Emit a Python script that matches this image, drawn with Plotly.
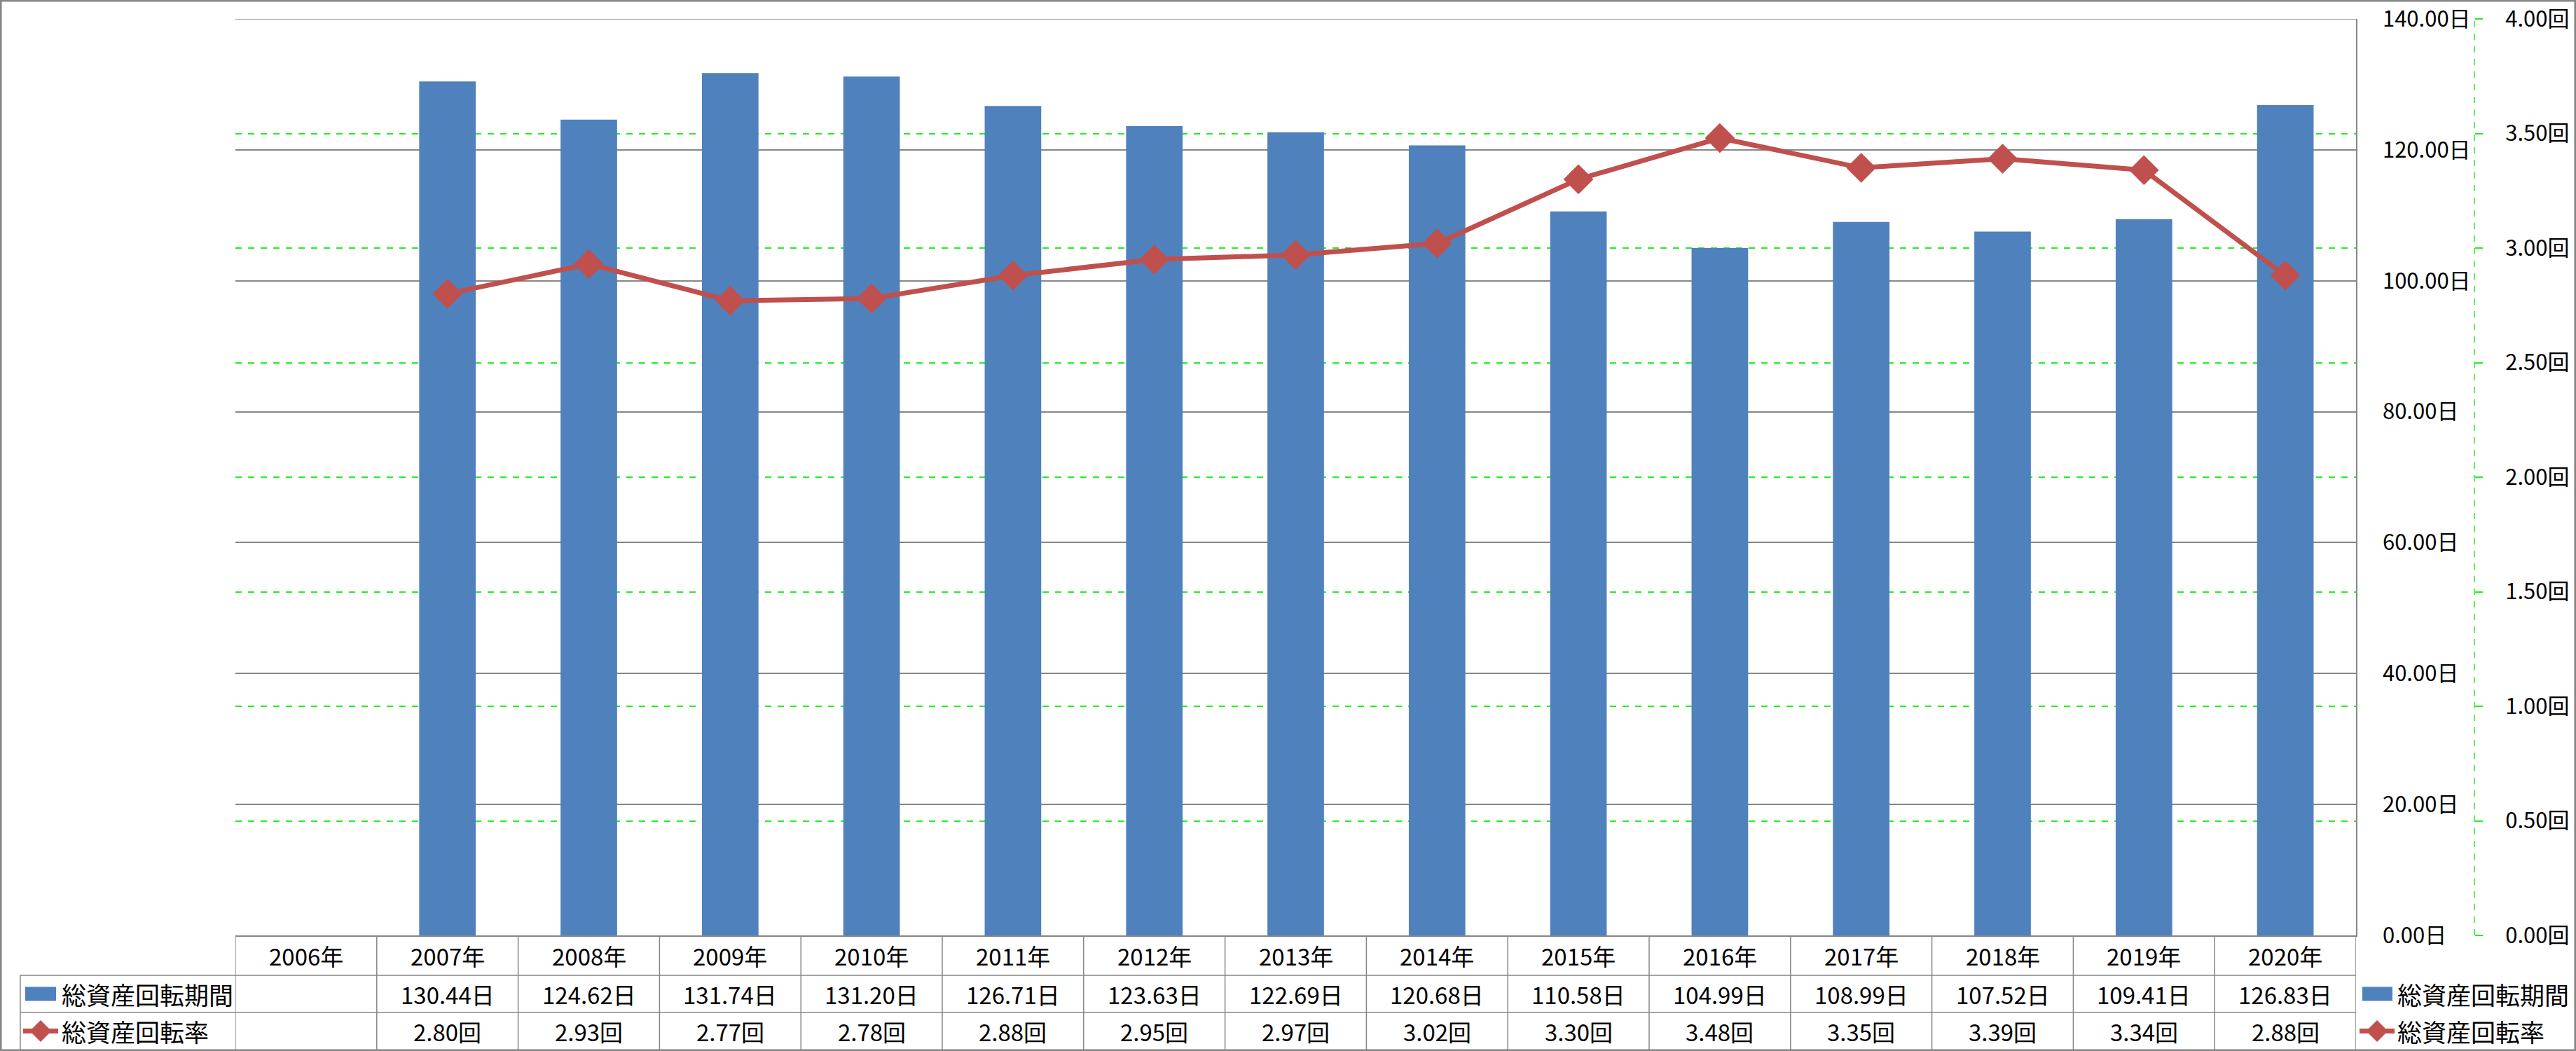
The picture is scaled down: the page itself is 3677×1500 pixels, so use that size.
import plotly.graph_objects as go

categories = ["2006年", "2007年", "2008年", "2009年", "2010年", "2011年", "2012年", "2013年",
              "2014年", "2015年", "2016年", "2017年", "2018年", "2019年", "2020年"]
period_days = [None, 130.44, 124.62, 131.74, 131.20, 126.71, 123.63, 122.69,
               120.68, 110.58, 104.99, 108.99, 107.52, 109.41, 126.83]
turnover_rate = [None, 2.80, 2.93, 2.77, 2.78, 2.88, 2.95, 2.97,
                 3.02, 3.30, 3.48, 3.35, 3.39, 3.34, 2.88]
name_period = "総資産回転期間"
name_rate = "総資産回転率"
day_ticks = [0, 20, 40, 60, 80, 100, 120, 140]
rate_ticks = [0, 0.5, 1.0, 1.5, 2.0, 2.5, 3.0, 3.5, 4.0]

W, H = 3677, 1500
FONT = "Noto Sans CJK JP"
FS_AX = 31
FS_TAB = 33
FS_LAB = 35
BLUE = "#4F81BD"
RED = "#C0504D"
GRAY = "#868686"
GREEN = "#22EE22"

def px(x):
    return x / W

def py(y):
    return (H - y) / H

x_left, x_right = 336, 3363
y_top, y_bot = 27, 1335
row1_b, row2_b, row3_b = 1392, 1445, 1498
ax2_x = 3532

fig = go.Figure()
fig.add_trace(go.Bar(
    x=categories, y=period_days, name=name_period, marker_color=BLUE,
    marker_line_width=0, yaxis="y", showlegend=False,
))
fig.add_trace(go.Scatter(
    x=categories, y=turnover_rate, name=name_rate, yaxis="y2",
    mode="lines+markers", line=dict(color=RED, width=7),
    marker=dict(symbol="diamond", size=32, color=RED, line=dict(color=RED, width=1)),
    showlegend=False,
))

shapes = []
annotations = []

# top gridline of the day axis (plotly clips gridlines at the range end)
shapes.append(dict(type="line", xref="x domain", yref="y", x0=0, x1=1,
                   y0=day_ticks[-1], y1=day_ticks[-1], line=dict(color=GRAY, width=1.5),
                   layer="below"))

# table vertical lines at category boundaries
for i in range(len(categories) + 1):
    shapes.append(dict(type="line", xref="x", yref="paper", x0=i - 0.5, x1=i - 0.5,
                       y0=py(row3_b), y1=py(y_bot), line=dict(color=GRAY, width=1.5)))
# left vertical of row labels
shapes.append(dict(type="line", xref="paper", yref="paper", x0=px(29), x1=px(29),
                   y0=py(row3_b), y1=py(row1_b), line=dict(color=GRAY, width=1.5)))
for yy in (row1_b, row2_b):
    shapes.append(dict(type="line", xref="paper", yref="paper", x0=px(29), x1=px(x_right),
                       y0=py(yy), y1=py(yy), line=dict(color=GRAY, width=1.5)))
# secondary axis dashed line
shapes.append(dict(type="line", xref="paper", yref="paper", x0=px(ax2_x), x1=px(ax2_x),
                   y0=py(y_bot), y1=py(y_top), line=dict(color=GREEN, width=1.5, dash="dash")))


def bar_key(x0, x1, yc):
    shapes.append(dict(type="rect", xref="paper", yref="paper", x0=px(x0), x1=px(x1),
                       y0=py(yc + 10), y1=py(yc - 10), fillcolor=BLUE, line=dict(width=0)))


def line_key(x0, x1, yc):
    shapes.append(dict(type="line", xref="paper", yref="paper", x0=px(x0), x1=px(x1),
                       y0=py(yc), y1=py(yc), line=dict(color=RED, width=7)))
    cx, hw, hh = (x0 + x1) / 2, 15, 15
    path = "M {} {} L {} {} L {} {} L {} {} Z".format(
        px(cx - hw), py(yc), px(cx), py(yc - hh), px(cx + hw), py(yc), px(cx), py(yc + hh))
    shapes.append(dict(type="path", xref="paper", yref="paper", path=path,
                       fillcolor=RED, line=dict(color=RED, width=1)))


y_r2 = (row1_b + row2_b) / 2
y_r3 = (row2_b + row3_b) / 2

# table legend keys
bar_key(36, 80, y_r2)
line_key(33, 83, y_r3)
# right-hand legend
bar_key(3372, 3415, y_r2)
line_key(3368, 3418, y_r3)

# outer border
shapes.append(dict(type="rect", xref="paper", yref="paper", x0=0.0003, x1=0.9997,
                   y0=0.0007, y1=0.9993, line=dict(color=GRAY, width=3), layer="above"))

# table texts
for i, c in enumerate(categories):
    annotations.append(dict(x=c, y=py((y_bot + row1_b) / 2), xref="x", yref="paper",
                            text=c, showarrow=False, xanchor="center", yanchor="middle",
                            font=dict(size=FS_TAB, family=FONT, color="black")))
    if period_days[i] is not None:
        annotations.append(dict(x=c, y=py(y_r2), xref="x", yref="paper",
                                text=f"{period_days[i]:.2f}日", showarrow=False,
                                xanchor="center", yanchor="middle",
                                font=dict(size=FS_TAB, family=FONT, color="black")))
    if turnover_rate[i] is not None:
        annotations.append(dict(x=c, y=py(y_r3), xref="x", yref="paper",
                                text=f"{turnover_rate[i]:.2f}回", showarrow=False,
                                xanchor="center", yanchor="middle",
                                font=dict(size=FS_TAB, family=FONT, color="black")))

for xl in (86, 3420):
    annotations.append(dict(x=px(xl), y=py(y_r2), xref="paper", yref="paper",
                            text=name_period, showarrow=False, xanchor="left", yanchor="middle",
                            font=dict(size=FS_LAB, family=FONT, color="black")))
    annotations.append(dict(x=px(xl), y=py(y_r3), xref="paper", yref="paper",
                            text=name_rate, showarrow=False, xanchor="left", yanchor="middle",
                            font=dict(size=FS_LAB, family=FONT, color="black")))

fig.update_layout(
    width=W, height=H,
    margin=dict(l=0, r=0, t=0, b=0, autoexpand=False),
    paper_bgcolor="white", plot_bgcolor="white",
    font=dict(family=FONT, size=FS_AX, color="black"),
    bargap=0.6,
    showlegend=False,
    xaxis=dict(domain=[px(x_left), px(x_right)], showticklabels=False, ticks="",
               showgrid=False, showline=True, linecolor=GRAY, linewidth=1.5,
               zeroline=False, range=[-0.5, len(categories) - 0.5], type="category",
               automargin=False),
    yaxis=dict(domain=[py(y_bot), py(y_top)], side="right", anchor="x",
               range=[0, 140], tickvals=day_ticks,
               ticktext=[f"{v:.2f}日" for v in day_ticks],
               showgrid=True, gridcolor=GRAY, gridwidth=1.5, zeroline=False,
               showline=True, linecolor=GRAY, linewidth=1.5, ticks="",
               ticklabelstandoff=30, ticklabeloverflow="allow", automargin=False,
               tickfont=dict(size=FS_AX, family=FONT)),
    yaxis2=dict(overlaying="y", side="right", anchor="free", position=px(ax2_x),
                range=[0, 4], tickvals=rate_ticks,
                ticktext=[f"{v:.2f}回" for v in rate_ticks],
                showgrid=True, gridcolor=GREEN, gridwidth=1.5, griddash="dash",
                zeroline=False, showline=False, ticks="outside", ticklen=11,
                tickcolor=GREEN, tickwidth=1.5, ticklabelstandoff=26,
                ticklabeloverflow="allow", automargin=False,
                tickfont=dict(size=FS_AX, family=FONT)),
    shapes=shapes,
    annotations=annotations,
)

fig.write_html("out.html")
